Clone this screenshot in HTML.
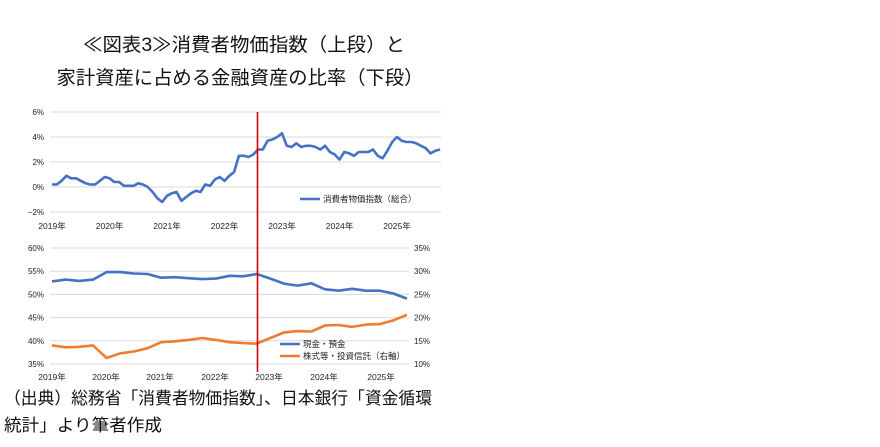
<!DOCTYPE html>
<html><head><meta charset="utf-8"><style>
html,body{margin:0;padding:0;background:#fff;width:880px;height:447px;overflow:hidden}
svg{display:block}
text{font-family:"Liberation Sans","Noto Sans CJK JP",sans-serif}
</style></head><body>
<svg id="s" width="880" height="447" xmlns="http://www.w3.org/2000/svg">
<text x="244" y="51" font-size="19" text-anchor="middle" fill="#111" textLength="322" lengthAdjust="spacingAndGlyphs">≪図表3≫消費者物価指数（上段）と</text>
<text x="240" y="84" font-size="19" text-anchor="middle" fill="#111" textLength="367" lengthAdjust="spacingAndGlyphs">家計資産に占める金融資産の比率（下段）</text>
<g id="g1"></g>
<text x="4" y="404" font-size="17" fill="#111" textLength="428" lengthAdjust="spacingAndGlyphs">（出典）総務省「消費者物価指数」、日本銀行「資金循環</text>
<text x="4" y="431" font-size="17" fill="#111" textLength="158" lengthAdjust="spacingAndGlyphs">統計」より筆者作成</text>
</svg>
<script>
var g=document.getElementById('g1'),h='';
function L(x1,y1,x2,y2,c,w){h+='<line x1="'+x1+'" y1="'+y1+'" x2="'+x2+'" y2="'+y2+'" stroke="'+c+'" stroke-width="'+w+'"/>';}
function T(x,y,s,t,a){h+='<text x="'+x+'" y="'+y+'" font-size="'+s+'" fill="#222" text-anchor="'+(a||'start')+'">'+t+'</text>';}
// top chart
var tv=[6,4,2,0,-2];
tv.forEach(function(v){var y=187-v*12.5;L(50,y,441,y,'#d9d9d9',1);T(44,y+3,8,(v<0?'−':'')+Math.abs(v)+'%','end');});
var yrs=['2019年','2020年','2021年','2022年','2023年','2024年','2025年'];
yrs.forEach(function(t,i){T(52+i*57.5,229,8.5,t,'middle');});
var cpi=[0.2,0.2,0.5,0.9,0.7,0.7,0.5,0.3,0.2,0.2,0.5,0.8,
0.7,0.4,0.4,0.1,0.1,0.1,0.3,0.2,0,-0.4,-0.9,-1.2,
-0.7,-0.5,-0.4,-1.1,-0.8,-0.5,-0.3,-0.4,0.2,0.1,0.6,0.8,
0.5,0.9,1.2,2.5,2.5,2.4,2.6,3.0,3.0,3.7,3.8,4.0,
4.3,3.3,3.2,3.5,3.2,3.3,3.3,3.2,3.0,3.3,2.8,2.6,
2.2,2.8,2.7,2.5,2.8,2.8,2.8,3.0,2.5,2.3,2.9,3.6,
4.0,3.7,3.6,3.6,3.5,3.3,3.1,2.7,2.9,3.0];
var p=cpi.map(function(v,i){return (52+i*57.5/12).toFixed(1)+','+(187-v*12.5).toFixed(1);}).join(' ');
h+='<polyline points="'+p+'" fill="none" stroke="#4472c4" stroke-width="2.6" stroke-linejoin="round"/>';
L(300,199,320,199,'#4472c4',2.6);T(323,202,8.5,'消費者物価指数（総合）');
// bottom chart
[60,55,50,45,40,35].forEach(function(v,i){var y=364-(v-35)*23.2/5;L(50,y,409,y,'#d9d9d9',1);T(44,y+3,8,v+'%','end');T(414,y+3,8,(v-25)+'%');});
var yrs2=[52,106,160,215,269,324,381];
yrs2.forEach(function(x,i){T(x,380,8.5,yrs[i],'middle');});
var bl=[52.8,53.2,52.9,53.2,54.8,54.8,54.5,54.4,53.6,53.7,53.5,53.3,53.4,54.0,53.9,54.4,53.4,52.3,51.9,52.4,51.1,50.8,51.2,50.8,50.8,50.2,49.1];
var or=[14.0,13.6,13.7,14.0,11.3,12.3,12.7,13.4,14.7,14.9,15.2,15.6,15.2,14.7,14.5,14.4,15.6,16.8,17.1,17.0,18.3,18.4,18.0,18.5,18.6,19.4,20.6];
var pb=bl.map(function(v,i){return (52+i*13.65).toFixed(1)+','+(364-(v-35)*4.64).toFixed(1);}).join(' ');
var po=or.map(function(v,i){return (52+i*13.65).toFixed(1)+','+(364-(v-10)*4.64).toFixed(1);}).join(' ');
h+='<polyline points="'+pb+'" fill="none" stroke="#4472c4" stroke-width="2.6" stroke-linejoin="round"/>';
h+='<polyline points="'+po+'" fill="none" stroke="#ed7d31" stroke-width="2.6" stroke-linejoin="round"/>';
L(280,344,300,344,'#4472c4',2.6);T(303,347,8.5,'現金・預金');
L(280,356,300,356,'#ed7d31',2.6);T(303,359,8.5,'株式等・投資信託（右軸）');
L(257.5,112,257.5,372,'#d00000',1.6);
g.innerHTML=h;
</script>
</body></html>
